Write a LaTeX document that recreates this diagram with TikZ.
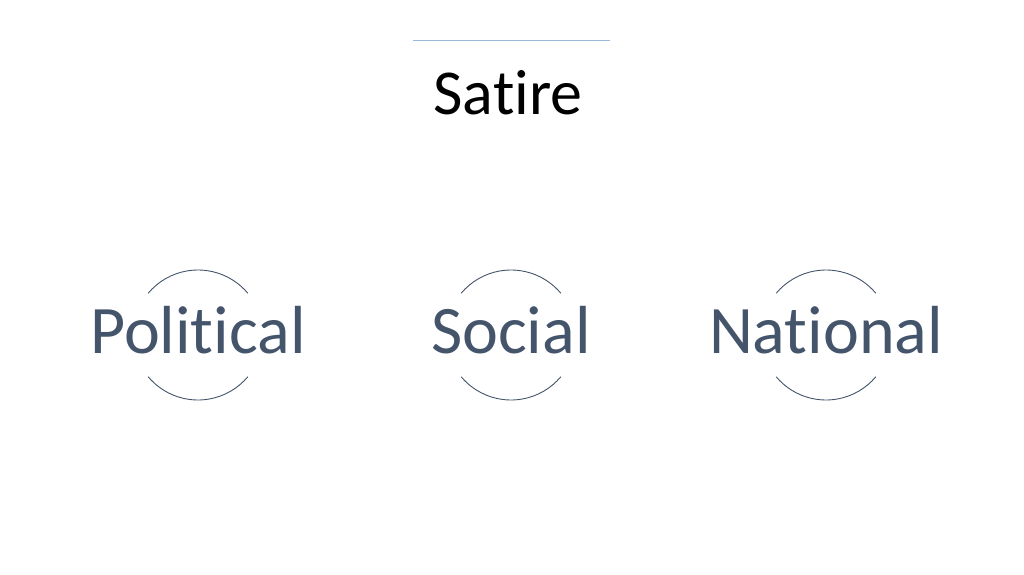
\documentclass[tikz,border=0pt]{standalone}
\usepackage{fontspec}
\setmainfont{Carlito}[RawFeature={-liga;-clig}]
\usepackage{tikz}
\definecolor{slate}{HTML}{44546A}
\definecolor{rulecol}{HTML}{9BB9D9}

\begin{document}
\begin{tikzpicture}[x=1pt,y=1pt,
  word/.style={anchor=base, text=slate, font=\fontsize{68}{80}\selectfont},
  ring/.style={draw=slate, line width=0.9pt}]
\newcommand{\Ringrad}{65pt}; % radius of the ring arcs
\newcommand{\Rowbase}{221}; % baseline of the word row
\newcommand{\Ringy}{239}; % height of the ring centres

\useasboundingbox (0,0) rectangle (1024,574);

\coordinate (RL) at (413,534);
\coordinate (RR) at (610,534);
\coordinate (CP) at (198,\Ringy); % centre of left ring
\coordinate (CS) at (511,\Ringy); % centre of middle ring
\coordinate (CN) at (826,\Ringy); % centre of right ring
%

% title
\draw[rulecol, line width=0.9pt] (RL) -- (RR);
\node[anchor=base, font=\fontsize{64}{76}\selectfont] (title) at (508,459) {Satire};

% words
\node[word] (pol) at (198,\Rowbase) {Political};
\node[word] (soc) at (511,\Rowbase) {Social};
\node[word] (nat) at (826,\Rowbase) {National};

% rings
\draw[ring] (CP) ++(40:\Ringrad) arc (40:140:\Ringrad);
\draw[ring] (CP) ++(220:\Ringrad) arc (220:320:\Ringrad);
\draw[ring] (CS) ++(40:\Ringrad) arc (40:140:\Ringrad);
\draw[ring] (CS) ++(220:\Ringrad) arc (220:320:\Ringrad);
\draw[ring] (CN) ++(40:\Ringrad) arc (40:140:\Ringrad);
\draw[ring] (CN) ++(220:\Ringrad) arc (220:320:\Ringrad);
\end{tikzpicture}
\end{document}
